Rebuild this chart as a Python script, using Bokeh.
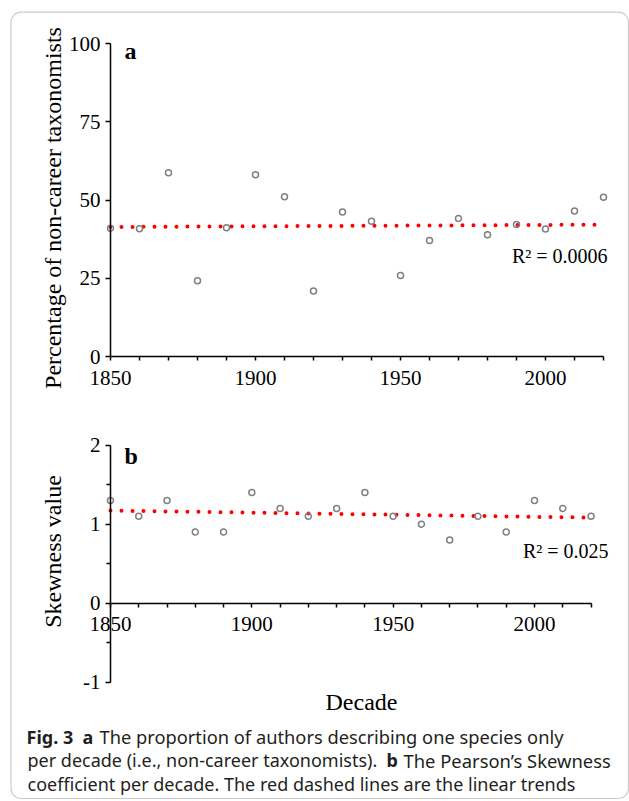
import numpy as np
from math import pi
from bokeh.plotting import figure
from bokeh.models import (Range1d, LinearAxis, FixedTicker, Label, BoxAnnotation)
from bokeh.embed import file_html
from bokeh.resources import INLINE

# ---------------- data ----------------
decades = [1850, 1860, 1870, 1880, 1890, 1900, 1910, 1920, 1930,
           1940, 1950, 1960, 1970, 1980, 1990, 2000, 2010, 2020]
pct_noncareer = [41.0, 40.8, 58.7, 24.2, 41.1, 58.1, 51.0, 20.9, 46.2,
                 43.2, 25.9, 37.1, 44.1, 38.9, 42.2, 40.7, 46.5, 50.9]
skewness = [1.3, 1.1, 1.3, 0.9, 0.9, 1.4, 1.2, 1.1, 1.2,
            1.4, 1.1, 1.0, 0.8, 1.1, 0.9, 1.3, 1.2, 1.1]
a_yticks = [0, 25, 50, 75, 100]
b_yticks = [-1, 0, 1, 2]
b_yminor = [-0.5, 0.5, 1.5]
x_major = [1850, 1900, 1950, 2000]
x_minor = [1860, 1870, 1880, 1890, 1910, 1920, 1930, 1940,
           1960, 1970, 1980, 1990, 2010, 2020]
r2_a = "R² = 0.0006"
r2_b = "R² = 0.025"
ylabel_a = "Percentage of non-career taxonomists"
ylabel_b = "Skewness value"
xlabel_b = "Decade"

# ---------------- layout ----------------
W, H = 629, 801
PX0, PX1 = 0, W
PY0, PY1 = 0, H

def xrange_from(v0, p0, v1, p1):
    k = (v1 - v0) / (p1 - p0)
    return Range1d(start=v0 + (PX0 - p0) * k, end=v0 + (PX1 - p0) * k)

def yrange_from(v0, p0, v1, p1):
    k = (v1 - v0) / (p1 - p0)
    return Range1d(start=v0 + (PY1 - p0) * k, end=v0 + (PY0 - p0) * k)

def Y(py):
    return -py

p = figure(width=W, height=H, output_backend="svg", toolbar_location=None,
           x_axis_type=None, y_axis_type=None,
           x_range=Range1d(PX0, PX1), y_range=Range1d(-PY1, -PY0),
           min_border=0, outline_line_color=None, background_fill_color="white",
           border_fill_color="white")

p.extra_x_ranges = {"xa": xrange_from(1850, 110, 2020, 603),
                    "xb": xrange_from(1850, 110, 2000, 534)}
p.extra_y_ranges = {"ya": yrange_from(0, 356, 100, 43),
                    "yb": yrange_from(0, 602.7, 2, 444.7)}

SERIF = "Liberation Serif"
SANS = "Noto Sans"

def style_axis(ax):
    ax.axis_line_color = "black"
    ax.axis_line_width = 1.5
    ax.major_tick_line_color = "black"
    ax.major_tick_line_width = 1.5
    ax.minor_tick_line_color = "black"
    ax.minor_tick_line_width = 1.5
    ax.major_tick_in = 0
    ax.minor_tick_in = 0
    ax.major_label_text_font = SERIF
    ax.major_label_text_font_size = "21px"
    ax.major_label_text_color = "black"
    ax.axis_label = None

# ----- panel a -----
ay = LinearAxis(x_range_name="xa", y_range_name="ya", fixed_location=1850,
                bounds=(0, 100), ticker=FixedTicker(ticks=a_yticks, minor_ticks=[]))
style_axis(ay)
ay.major_tick_out = 5
ay.major_label_standoff = 5
p.add_layout(ay, "left")

ax_a = LinearAxis(x_range_name="xa", y_range_name="ya", fixed_location=0,
                  bounds=(1850, 2020), ticker=FixedTicker(ticks=x_major, minor_ticks=x_minor))
style_axis(ax_a)
ax_a.major_tick_out = 4
ax_a.minor_tick_out = 4
ax_a.major_label_standoff = 10
p.add_layout(ax_a, "below")

ca = np.polyfit(decades, pct_noncareer, 1)
p.line([decades[0], decades[-1]], list(np.polyval(ca, [decades[0], decades[-1]])),
       x_range_name="xa", y_range_name="ya", line_color="#ff0000", line_width=4,
       line_dash="0 11", line_cap="round")
p.scatter(decades, pct_noncareer, x_range_name="xa", y_range_name="ya",
          marker="circle", size=6, fill_color=None, line_color="#808080", line_width=1.5)

# ----- panel b -----
by = LinearAxis(x_range_name="xb", y_range_name="yb", fixed_location=1850,
                bounds=(-1, 2), ticker=FixedTicker(ticks=b_yticks, minor_ticks=b_yminor))
style_axis(by)
by.major_tick_out = 5
by.minor_tick_out = 4
by.major_label_standoff = 5
by.major_label_overrides = {-1: "-1"}
p.add_layout(by, "left")

ax_b = LinearAxis(x_range_name="xb", y_range_name="yb", fixed_location=0,
                  bounds=(1850, 2020), ticker=FixedTicker(ticks=x_major, minor_ticks=x_minor))
style_axis(ax_b)
ax_b.major_tick_out = 4
ax_b.minor_tick_out = 4
ax_b.major_label_standoff = 10
p.add_layout(ax_b, "below")

cb = np.polyfit(decades, skewness, 1)
p.line([decades[0], decades[-1]], list(np.polyval(cb, [decades[0], decades[-1]])),
       x_range_name="xb", y_range_name="yb", line_color="#ff0000", line_width=4,
       line_dash="0 11", line_cap="round")
p.scatter(decades, skewness, x_range_name="xb", y_range_name="yb",
          marker="circle", size=6, fill_color=None, line_color="#808080", line_width=1.5)

# ----- texts -----
def lab(x, py, text, font=SERIF, size="24px", style="normal", align="left",
        baseline="alphabetic", angle=0, color="black"):
    p.add_layout(Label(x=x, y=Y(py), text=text, text_font=font, text_font_size=size,
                       text_font_style=style, text_align=align, text_baseline=baseline,
                       angle=angle, text_color=color))

lab(124, 50, "a", style="bold")
lab(124, 455, "b", style="bold")
lab(607, 255, r2_a, size="20px", align="right")
lab(608, 550, r2_b, size="20px", align="right")
lab(52.5, 207.5, ylabel_a, size="24px", align="center", angle=pi / 2)
lab(52.5, 551, ylabel_b, size="24px", align="center", angle=pi / 2)
lab(361, 701, xlabel_b, size="24px", align="center")

CAP = "#231f20"
lab(26, 736, "Fig. 3", font=SANS, size="18px", style="bold", color=CAP)
lab(82, 736, "a", font=SANS, size="18px", style="bold", color=CAP)
lab(99, 736, "The proportion of authors describing one species only", font=SANS, size="18.3px", color=CAP)
lab(27, 759.5, "per decade (i.e., non-career taxonomists).", font=SANS, size="18px", color=CAP)
lab(386, 759.5, "b", font=SANS, size="18px", style="bold", color=CAP)
lab(403, 759.5, "The Pearson’s Skewness", font=SANS, size="18.4px", color=CAP)
lab(27, 783, "coefficient per decade. The red dashed lines are the linear trends", font=SANS, size="18px", color=CAP)

# ----- frame box -----
p.add_layout(BoxAnnotation(left=10.5, right=628, top=Y(11.7), bottom=Y(798),
                           fill_alpha=0, line_color="#555555", line_width=1.2,
                           border_radius=10))

open("out.html", "w").write(file_html(p, INLINE))
